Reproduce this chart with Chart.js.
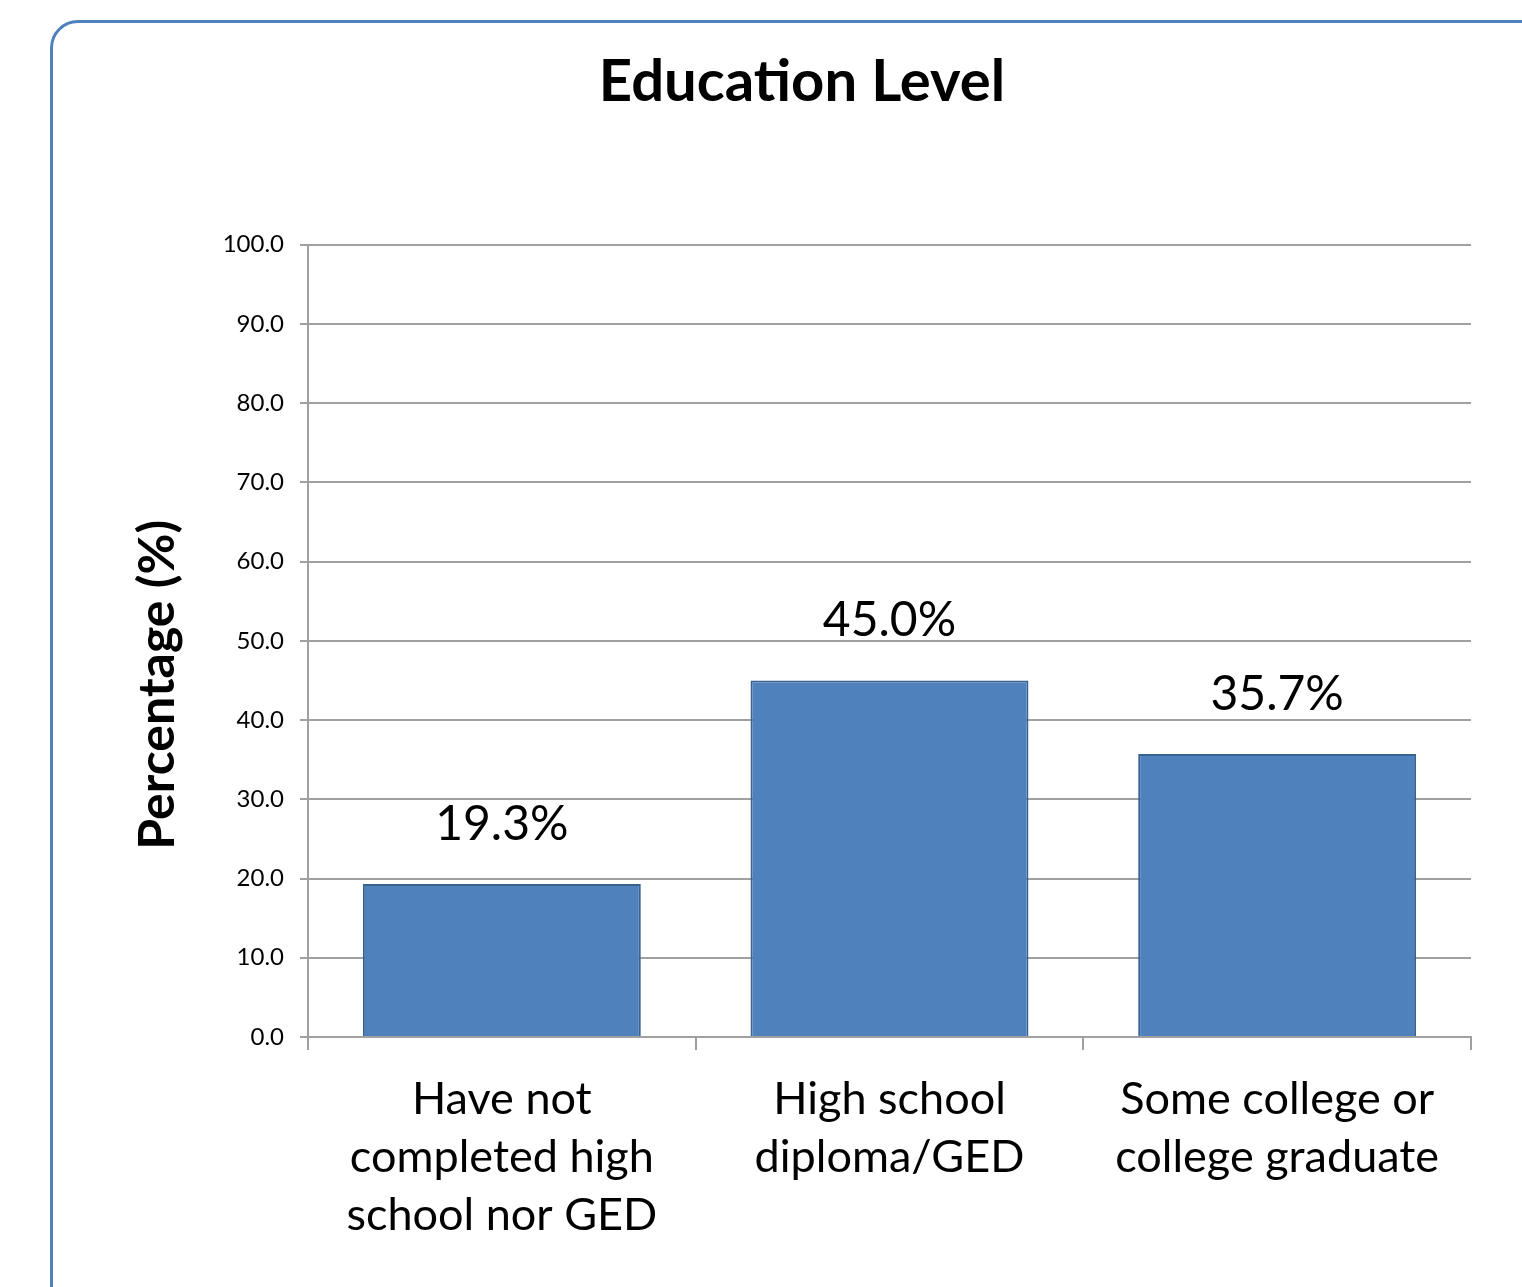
<!DOCTYPE html>
<html>
<head>
<meta charset="utf-8">
<script src="https://cdn.jsdelivr.net/npm/chart.js@4"></script>
<style>
  html, body { margin: 0; padding: 0; width: 1522px; height: 1287px; overflow: hidden; background: #fff; }
  #frame { position: absolute; left: 50px; top: 20px; width: 1530px; height: 1300px; border: 3px solid #4f81bd; border-radius: 28px; box-sizing: border-box; }
  #c { position: absolute; left: 0; top: 0; }
</style>
</head>
<body>
<div id="frame"></div>
<canvas id="c" width="1522" height="1287" style="width:1522px;height:1287px"></canvas>
<script>
const categories = [
  ["Have not", "completed high", "school nor GED"],
  ["High school", "diploma/GED"],
  ["Some college or", "college graduate"]
];
const values = [19.3, 45.0, 35.7];
const valueLabels = ["19.3%", "45.0%", "35.7%"];
const chartTitle = "Education Level";
const yAxisTitle = "Percentage (%)";

const FONT = "Lato, 'Open Sans', sans-serif";

const dataLabelPlugin = {
  id: 'dataLabels',
  afterDatasetsDraw(chart) {
    const ctx = chart.ctx;
    const meta = chart.getDatasetMeta(0);
    ctx.save();
    ctx.font = "48px " + FONT;
    ctx.fillStyle = "#000";
    ctx.textAlign = "center";
    ctx.textBaseline = "bottom";
    meta.data.forEach((bar, i) => {
      ctx.fillText(valueLabels[i], bar.x, bar.y - 36);
    });
    ctx.restore();
  }
};

const yTitlePlugin = {
  id: 'yTitle',
  afterDraw(chart) {
    const ctx = chart.ctx;
    const area = chart.chartArea;
    ctx.save();
    ctx.translate(158, (area.top + area.bottom) / 2 + 44);
    ctx.rotate(-Math.PI / 2);
    ctx.font = "bold 50px " + FONT;
    ctx.fillStyle = "#000";
    ctx.textAlign = "center";
    ctx.textBaseline = "middle";
    ctx.fillText(yAxisTitle, 0, 0);
    ctx.restore();
  }
};

new Chart(document.getElementById('c'), {
  type: 'bar',
  data: {
    labels: categories,
    datasets: [{
      data: values,
      backgroundColor: '#4f81bd',
      borderColor: '#3a6291',
      borderWidth: 2,
      barPercentage: 0.717,
      categoryPercentage: 1.0
    }]
  },
  options: {
    responsive: false,
    animation: false,
    devicePixelRatio: 1,
    layout: { padding: { left: 133, right: 51, top: 0, bottom: 0 } },
    plugins: {
      legend: { display: false },
      tooltip: { enabled: false },
      title: {
        display: true,
        text: chartTitle,
        color: '#000',
        font: { family: FONT, size: 58, weight: 'bold', lineHeight: 1.2 },
        padding: { top: 47, bottom: 128 }
      }
    },
    scales: {
      x: {
        grid: { drawOnChartArea: false, drawTicks: true, tickLength: 13, color: '#a0a0a0', lineWidth: 2 },
        border: { display: true, color: '#a0a0a0', width: 2 },
        ticks: {
          color: '#000',
          font: { family: FONT, size: 45, lineHeight: 1.29 },
          padding: 20,
          maxRotation: 0,
          autoSkip: false
        },
        afterFit(scale) { scale.height = 250; }
      },
      y: {
        min: 0,
        max: 100,
        ticks: {
          stepSize: 10,
          color: '#000',
          font: { family: FONT, size: 24 },
          padding: 16,
          callback: (v) => Number(v).toFixed(1)
        },
        grid: { color: '#a0a0a0', lineWidth: 2, tickLength: 8 },
        border: { display: true, color: '#a0a0a0', width: 2 },
        title: { display: false },
        afterFit(scale) { scale.width = 175; }
      }
    }
  },
  plugins: [dataLabelPlugin, yTitlePlugin]
});
</script>
</body>
</html>
